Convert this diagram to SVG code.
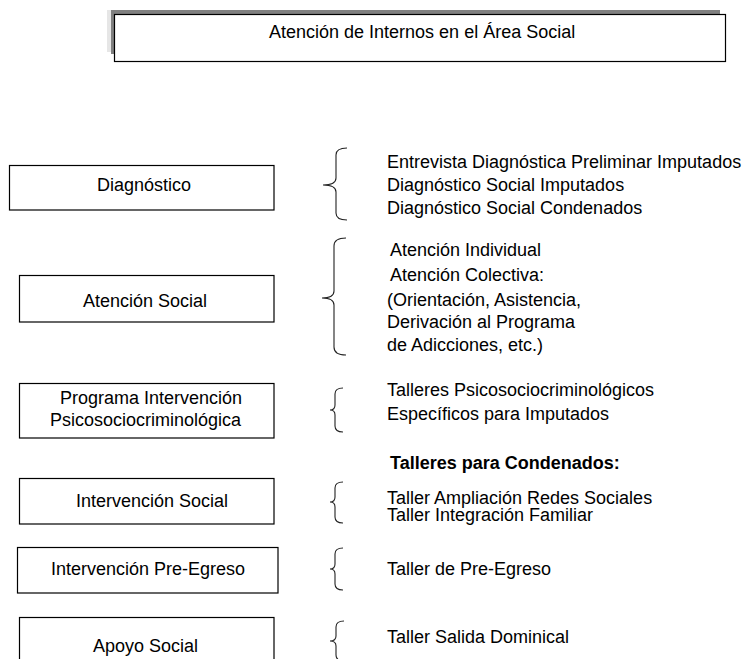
<svg xmlns="http://www.w3.org/2000/svg" width="745" height="659" viewBox="0 0 745 659">
<style>
text{font-family:"Liberation Sans",Arial,sans-serif;font-size:18px;fill:#000}
.b{font-weight:bold}
.box{fill:#fff;stroke:#000;stroke-width:1.2}
.br{fill:none;stroke:#222;stroke-width:1.1}
</style>
<rect x="0" y="0" width="745" height="659" fill="#fff"/>
<g id="title">
<rect x="107" y="10" width="8" height="42" fill="#e6e6e6"/>
<rect x="111" y="10" width="609" height="44" fill="#808080"/>
<rect class="box" x="114.5" y="14.5" width="611" height="47"/>
<text x="269" y="38">Atención de Internos en el Área Social</text>
</g>
<g id="diagnostico">
<rect class="box" x="9.5" y="165.5" width="264.5" height="44.5"/>
<text x="97" y="191">Diagnóstico</text>
</g>
<g id="atencion-social">
<rect class="box" x="19.5" y="275.5" width="254.5" height="46.5"/>
<text x="83" y="307">Atención Social</text>
</g>
<g id="programa">
<rect class="box" x="19.5" y="383.5" width="254.5" height="54.5"/>
<text x="60" y="404">Programa Intervención</text>
<text x="50" y="426">Psicosociocriminológica</text>
</g>
<g id="intervencion-social">
<rect class="box" x="19.5" y="478.5" width="254.5" height="45.5"/>
<text x="76" y="507">Intervención Social</text>
</g>
<g id="pre-egreso">
<rect class="box" x="17.5" y="547.5" width="260.5" height="45.5"/>
<text x="51" y="575">Intervención Pre-Egreso</text>
</g>
<g id="apoyo-social">
<rect class="box" x="19.5" y="617.5" width="254.5" height="60"/>
<text x="93" y="652">Apoyo Social</text>
</g>
<g id="connectors">
<path class="br" d="M347,148 Q336,148 336,155 L336,178 Q336,185 323,185 Q336,185 336,192 L336,213 Q336,220 347,220"/>
<path class="br" d="M346,238 Q334,238 334,246 L334,291 Q334,298 322,298 Q334,298 334,305 L334,347 Q334,355 346,355"/>
<path class="br" d="M343,388 Q335,388 335,394 L335,405 Q335,410 330,410 Q335,410 335,415 L335,426 Q335,432 343,432"/>
<path class="br" d="M343,482 Q335,482 335,488 L335,497 Q335,502 330,502 Q335,502 335,507 L335,517 Q335,523 343,523"/>
<path class="br" d="M343,548 Q335,548 335,554 L335,564 Q335,569 330,569 Q335,569 335,574 L335,584 Q335,590 343,590"/>
<path class="br" d="M344,621 Q336,621 336,627 L336,636 Q336,641 330,641 Q336,641 336,646 L336,655 Q336,661 344,661"/>
</g>
<g id="labels">
<text x="387" y="168">Entrevista Diagnóstica Preliminar Imputados</text>
<text x="387" y="191">Diagnóstico Social Imputados</text>
<text x="387" y="214">Diagnóstico Social Condenados</text>
<text x="390" y="256">Atención Individual</text>
<text x="390" y="281">Atención Colectiva:</text>
<text x="387" y="306">(Orientación, Asistencia,</text>
<text x="387" y="328">Derivación al Programa</text>
<text x="387" y="351">de Adicciones, etc.)</text>
<text x="387" y="396">Talleres Psicosociocriminológicos</text>
<text x="387" y="420">Específicos para Imputados</text>
<text class="b" x="390" y="469">Talleres para Condenados:</text>
<text x="387" y="504">Taller Ampliación Redes Sociales</text>
<text x="387" y="521">Taller Integración Familiar</text>
<text x="387" y="575">Taller de Pre-Egreso</text>
<text x="387" y="643">Taller Salida Dominical</text>
</g>
</svg>
